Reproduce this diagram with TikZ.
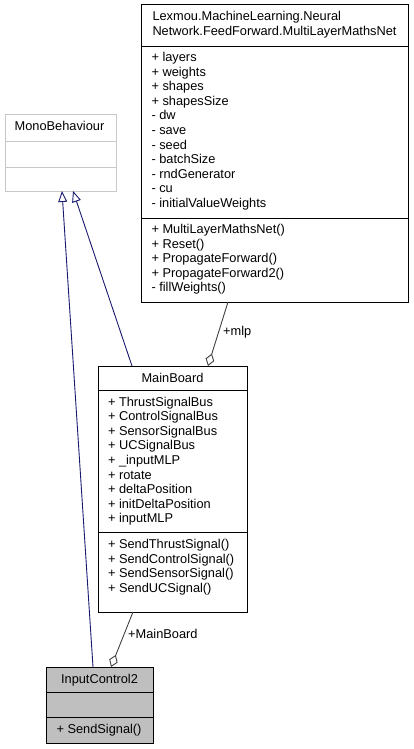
\documentclass[tikz,border=0pt]{standalone}
\usepackage{fontspec}
\setmainfont{Liberation Sans}
\usetikzlibrary{arrows.meta}
\definecolor{inhcol}{HTML}{191970}
\definecolor{aggcol}{HTML}{404040}
\definecolor{icfill}{HTML}{BFBFBF}
\definecolor{extgray}{HTML}{C8C8C8}
\newcommand\ls{\rule[-4.1pt]{0pt}{14.6pt}}
\begin{document}
\begin{tikzpicture}[x=1pt,y=-1pt,
  umlbox/.style={draw=black,line width=1pt,anchor=north west,inner sep=0pt,outer sep=0pt,fill=white},
  txt/.style={font=\fontsize{12.8}{14.6}\selectfont,inner sep=0pt,outer sep=0pt,align=left,text=black},
  sepline/.style={draw=black,line width=1pt},
  inhedge/.style={draw=inhcol,line width=0.9pt,-{Triangle[fill=white,length=11pt,width=9pt]}},
  aggedge/.style={draw=aggcol,line width=0.9pt,{Diamond[fill=white,length=13pt,width=9pt]}-},
  lbl/.style={font=\fontsize{12.8}{14.6}\selectfont,inner sep=0pt,text=black,anchor=west}]
\fill[white] (0,0) rectangle (413,749);
\useasboundingbox (0,0) rectangle (413,749);

% MultiLayerMathsNet
\node[umlbox,minimum width=267pt,minimum height=297pt] (mlmn) at (141,5) {};
\draw[sepline] ([yshift=-41.5pt]mlmn.north west) -- ([yshift=-41.5pt]mlmn.north east);
\draw[sepline] ([yshift=-213pt]mlmn.north west) -- ([yshift=-213pt]mlmn.north east);
\node[txt,anchor=north] (mlmnT) at ([yshift=-5.5pt]mlmn.north)
  {\ls Lexmou.MachineLearning.Neural\\\ls Network.FeedForward.MultiLayerMathsNet};
\node[txt,anchor=north west] (mlmnA) at ([xshift=10.5pt,yshift=-46pt]mlmn.north west)
  {\ls + layers\\\ls + weights\\\ls + shapes\\\ls + shapesSize\\\ls - dw\\\ls - save\\\ls - seed\\\ls - batchSize\\\ls - rndGenerator\\\ls - cu\\\ls - initialValueWeights};
\node[txt,anchor=north west] (mlmnM) at ([xshift=10.5pt,yshift=-218pt]mlmn.north west)
  {\ls + MultiLayerMathsNet()\\\ls + Reset()\\\ls + PropagateForward()\\\ls + PropagateForward2()\\\ls - fillWeights()};

% MonoBehaviour
\node[umlbox,draw=extgray,minimum width=111pt,minimum height=76pt] (mono) at (5,115) {};
\draw[sepline,draw=extgray] ([yshift=-26pt]mono.north west) -- ([yshift=-26pt]mono.north east);
\draw[sepline,draw=extgray] ([yshift=-52pt]mono.north west) -- ([yshift=-52pt]mono.north east);
\node[txt,anchor=north] (monoT) at ([xshift=-1pt,yshift=-5.5pt]mono.north) {\ls MonoBehaviour};

% MainBoard
\node[umlbox,minimum width=149pt,minimum height=246pt] (mb) at (98,366) {};
\draw[sepline] ([yshift=-24pt]mb.north west) -- ([yshift=-24pt]mb.north east);
\draw[sepline] ([yshift=-166pt]mb.north west) -- ([yshift=-166pt]mb.north east);
\node[txt,anchor=north] (mbT) at ([yshift=-5.7pt]mb.north) {\ls MainBoard};
\node[txt,anchor=north west] (mbA) at ([xshift=10pt,yshift=-29.5pt]mb.north west)
  {\ls + ThrustSignalBus\\\ls + ControlSignalBus\\\ls + SensorSignalBus\\\ls + UCSignalBus\\\ls + \_inputMLP\\\ls + rotate\\\ls + deltaPosition\\\ls + initDeltaPosition\\\ls + inputMLP};
\node[txt,anchor=north west] (mbM) at ([xshift=10pt,yshift=-172pt]mb.north west)
  {\ls + SendThrustSignal()\\\ls + SendControlSignal()\\\ls + SendSensorSignal()\\\ls + SendUCSignal()};

% InputControl2
\node[umlbox,fill=icfill,minimum width=107pt,minimum height=76pt] (ic) at (46,667) {};
\draw[sepline] ([yshift=-25pt]ic.north west) -- ([yshift=-25pt]ic.north east);
\draw[sepline] ([yshift=-50pt]ic.north west) -- ([yshift=-50pt]ic.north east);
\node[txt,anchor=north] (icT) at ([yshift=-5.5pt]ic.north) {\ls InputControl2};
\node[txt,anchor=north west] (icM) at ([xshift=10.5pt,yshift=-55.5pt]ic.north west) {\ls + SendSignal()};

% connectors
\draw[inhedge] ([xshift=47pt]ic.north west) -- ([xshift=57pt]mono.south west);
\draw[inhedge] ([xshift=34pt]mb.north west) -- ([xshift=68pt]mono.south west);
\draw[aggedge] ([xshift=110pt]mb.north west) -- ([xshift=87pt]mlmn.south west);
\draw[aggedge] ([xshift=65pt]ic.north west) -- ([xshift=35pt]mb.south west);
\node[lbl] (lmlp) at (223,332) {+mlp};
\node[lbl] (lmb) at (128,634) {+MainBoard};
\end{tikzpicture}
\end{document}
